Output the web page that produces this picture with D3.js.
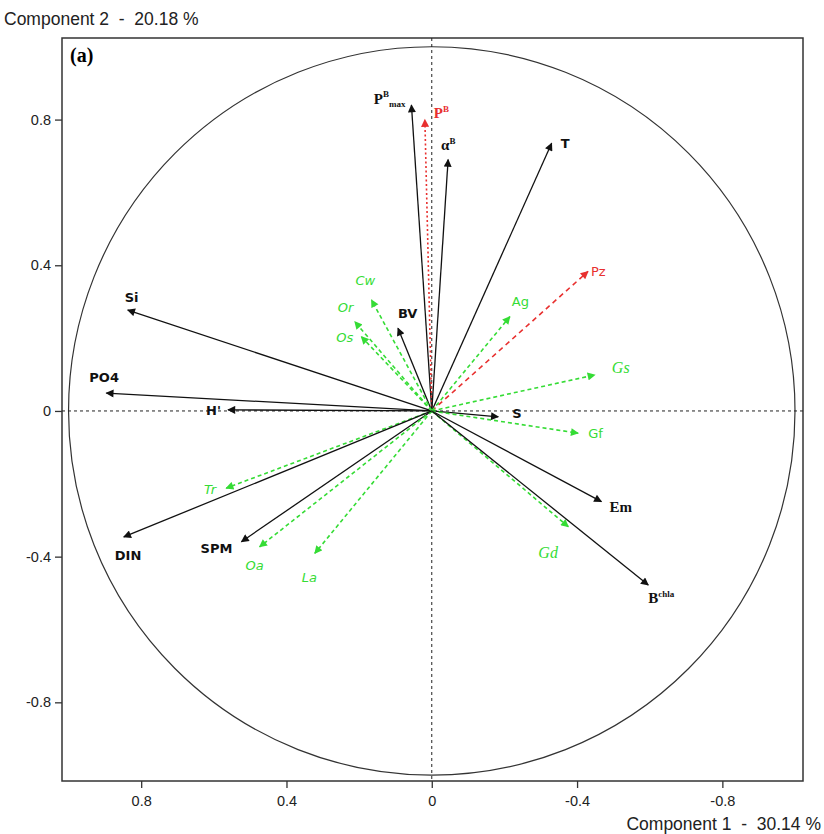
<!DOCTYPE html>
<html><head><meta charset="utf-8">
<script src="https://cdn.jsdelivr.net/npm/d3@7"></script>
<style>body{margin:0;background:#fff;} svg{display:block;}</style>
</head><body>
<script>
// ---- data ----
const varNames = ["Pmax","PB","aB","T","Pz","Ag","Gs","S","Gf","Em","Gd","Bchla","Si","PO4","H'","BV","Cw","Or","Os","Tr","SPM","Oa","La","DIN"];
const comp1 = [0.056,0.019,-0.045,-0.33,-0.43,-0.215,-0.449,-0.183,-0.403,-0.467,-0.376,-0.596,0.837,0.896,0.561,0.093,0.166,0.212,0.194,0.566,0.524,0.474,0.322,0.848];
const comp2 = [0.84,0.80,0.69,0.735,0.383,0.259,0.099,-0.016,-0.061,-0.249,-0.318,-0.478,0.277,0.049,0.003,0.227,0.305,0.245,0.204,-0.212,-0.359,-0.373,-0.391,-0.346];
const groups = ["prod","prodR","prod","env","prodRz","phyto","phyto","env","phyto","env","phyto","env","env","env","env","env","phyto","phyto","phyto","phyto","env","phyto","phyto","env"];
const xTicks = [0.8,0.4,0,-0.4,-0.8];
const yTicks = [0.8,0.4,0,-0.4,-0.8];
const xTitle = "Component 1  -  30.14 %";
const yTitle = "Component 2  -  20.18 %";
const panelLabel = "(a)";

// ---- layout (label placement relative to arrow tips) ----
const labelLayout = {
  "Pmax":{dx:-6,dy:-1,anchor:"end"}, "PB":{dx:9,dy:-2}, "aB":{dx:-7,dy:-10},
  "T":{dx:9,dy:5}, "Pz":{dx:3,dy:5}, "Ag":{dx:2,dy:-11}, "Gs":{dx:17,dy:-2},
  "S":{dx:14,dy:1}, "Gf":{dx:10,dy:5}, "Em":{dx:8,dy:10}, "Gd":{dx:-30,dy:31},
  "Bchla":{dx:0,dy:18}, "Si":{dx:-3,dy:-8}, "PO4":{dx:-17,dy:-11},
  "H'":{dx:-7,dy:5,anchor:"end"}, "BV":{dx:0,dy:-10}, "Cw":{dx:-16,dy:-15},
  "Or":{dx:-17,dy:-10}, "Os":{dx:-8,dy:5,anchor:"end"}, "Tr":{dx:-10,dy:6,anchor:"end"},
  "SPM":{dx:-9,dy:11,anchor:"end"}, "Oa":{dx:-14,dy:23}, "La":{dx:-13,dy:29}, "DIN":{dx:-9,dy:23}
};
const serifBold = ["Pmax","PB","aB","Em","Bchla"];
const serifItalic = ["Gs","Gd"];
const uprightGreen = ["Ag","Gf"];

const W = 824, H = 834;
const svg = d3.select("body").append("svg").attr("width",W).attr("height",H);

const x = d3.scaleLinear().domain([1.018,-1.022]).range([62,803]);
const y = d3.scaleLinear().domain([1.024,-1.016]).range([38,781]);

const green = "#35dc35", red = "#e8302f", black = "#111";
const colorOf = g => g==="phyto"?green:(g==="prodR"||g==="prodRz")?red:black;
const dashOf = g => g==="phyto"?"4,3":g==="prodRz"?"5,4":g==="prodR"?"2,2.5":null;
const sans = "Liberation Sans, Arial, sans-serif";
const wide = "DejaVu Sans, Verdana, sans-serif";
const serif = "Liberation Serif, Times New Roman, serif";

// markers
const defs = svg.append("defs");
[["mk-black",black],["mk-green",green],["mk-red",red]].forEach(([id,c])=>{
  defs.append("marker").attr("id",id).attr("viewBox","0 0 10 10")
    .attr("refX",9).attr("refY",5).attr("markerWidth",9).attr("markerHeight",8)
    .attr("markerUnits","userSpaceOnUse").attr("orient","auto")
    .append("path").attr("d","M0,0L10,5L0,10Z").attr("fill",c);
});
const markerOf = g => g==="phyto"?"url(#mk-green)":(g==="prodR"||g==="prodRz")?"url(#mk-red)":"url(#mk-black)";

// frame
svg.append("rect").attr("x",62).attr("y",38).attr("width",741).attr("height",743)
  .attr("fill","none").attr("stroke","#333").attr("stroke-width",1.5);

// axes
const fmt = d=>d===0?"0":String(d);
const xAxis = d3.axisBottom(x).tickValues(xTicks).tickSize(7).tickFormat(fmt);
const gx = svg.append("g").attr("transform","translate(0,781)").call(xAxis);
gx.select(".domain").remove();
gx.selectAll("line").attr("stroke","#333").attr("stroke-width",1.3);
gx.selectAll("text").attr("font-family",sans).attr("font-size",14.5).attr("fill","#222").attr("dy","1.05em");

const yAxis = d3.axisLeft(y).tickValues(yTicks).tickSize(7).tickFormat(fmt);
const gy = svg.append("g").attr("transform","translate(62,0)").call(yAxis);
gy.select(".domain").remove();
gy.selectAll("line").attr("stroke","#333").attr("stroke-width",1.3);
gy.selectAll("text").attr("font-family",sans).attr("font-size",14.5).attr("fill","#222").attr("x",-11);

svg.append("text").attr("x",4).attr("y",25).style("white-space","pre").text(yTitle)
  .attr("font-family",sans).attr("font-size",17.5).attr("fill","#222");
svg.append("text").attr("x",821).attr("y",830).attr("text-anchor","end").style("white-space","pre").text(xTitle)
  .attr("font-family",sans).attr("font-size",17.5).attr("fill","#222");

// circle
svg.append("ellipse").attr("cx",x(0)).attr("cy",y(0))
  .attr("rx",Math.abs(x(1)-x(0))).attr("ry",Math.abs(y(1)-y(0)))
  .attr("fill","none").attr("stroke","#333").attr("stroke-width",1.2);

// zero lines
svg.append("line").attr("x1",x(1.018)).attr("x2",x(-1.022)).attr("y1",y(0)).attr("y2",y(0))
  .attr("stroke","#222").attr("stroke-width",1).attr("stroke-dasharray","3,3");
svg.append("line").attr("x1",x(0)).attr("x2",x(0)).attr("y1",y(1.024)).attr("y2",y(-1.016))
  .attr("stroke","#222").attr("stroke-width",1).attr("stroke-dasharray","3,3");

svg.append("text").attr("x",70).attr("y",62).text(panelLabel)
  .attr("font-family",serif).attr("font-weight","bold").attr("font-size",20).attr("fill","#000");

// vectors
const rows = varNames.map((n,i)=>({name:n,c1:comp1[i],c2:comp2[i],g:groups[i]}));
svg.append("g").selectAll("line").data(rows).join("line")
  .attr("x1",x(0)).attr("y1",y(0))
  .attr("x2",d=>x(d.c1)).attr("y2",d=>y(d.c2))
  .attr("stroke",d=>colorOf(d.g))
  .attr("stroke-width",d=>d.g==="phyto"||d.g.startsWith("prodR")?1.6:1.3)
  .attr("stroke-dasharray",d=>dashOf(d.g))
  .attr("marker-end",d=>markerOf(d.g));

// labels
const lg = svg.append("g");
rows.forEach(d=>{
  const L = labelLayout[d.name];
  const t = lg.append("text").attr("x",x(d.c1)+L.dx).attr("y",y(d.c2)+L.dy)
    .attr("text-anchor",L.anchor||"start").attr("fill",colorOf(d.g));
  if(serifBold.includes(d.name)){
    t.attr("font-family",serif).attr("font-weight","bold").attr("font-size",15);
    if(d.name==="Pmax"){ t.append("tspan").text("P"); t.append("tspan").text("B").attr("font-size",9).attr("dy",-7);
      t.append("tspan").text("max").attr("font-size",9).attr("dy",10); }
    else if(d.name==="PB"){ t.append("tspan").text("P"); t.append("tspan").text("B").attr("font-size",9).attr("dy",-6); }
    else if(d.name==="aB"){ t.append("tspan").text("α"); t.append("tspan").text("B").attr("font-size",9).attr("dy",-6); }
    else if(d.name==="Bchla"){ t.append("tspan").text("B"); t.append("tspan").text("chla").attr("font-size",9).attr("dy",-6); }
    else t.text(d.name);
  } else if(serifItalic.includes(d.name)){
    t.attr("font-family",serif).attr("font-style","italic").attr("font-size",16).text(d.name);
  } else if(uprightGreen.includes(d.name)){
    t.attr("font-family",wide).attr("font-size",13).text(d.name);
  } else if(d.g==="phyto"){
    t.attr("font-family",wide).attr("font-style","italic").attr("font-size",13).text(d.name);
  } else if(d.g==="prodRz"){
    t.attr("font-family",wide).attr("font-size",13).text(d.name);
  } else {
    t.attr("font-family",wide).attr("font-weight","bold").attr("font-size",13).text(d.name);
  }
});
</script>
</body></html>
